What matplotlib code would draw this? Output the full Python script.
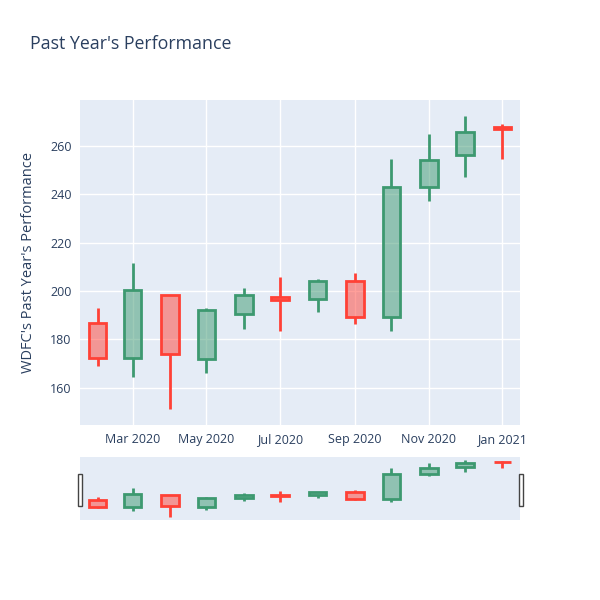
import numpy as np
import matplotlib; matplotlib.use('Agg')
import matplotlib.pyplot as plt
import matplotlib.dates as mdates
from matplotlib.patches import Rectangle

plt.rcParams.update({'font.family': ['Open Sans', 'DejaVu Sans']})

# monthly candles
months = ['2020-02-01', '2020-03-01', '2020-04-01', '2020-05-01', '2020-06-01', '2020-07-01',
          '2020-08-01', '2020-09-01', '2020-10-01', '2020-11-01', '2020-12-01', '2021-01-01']
opens = [186.6, 172.1, 198.1, 172.0, 190.3, 197.4, 196.7, 204.0, 189.0, 243.2, 256.3, 268.0]
highs = [193.1, 211.5, 198.1, 192.8, 201.4, 205.7, 205.0, 207.3, 254.7, 264.9, 272.5, 269.0]
lows = [169.1, 164.3, 151.0, 165.9, 184.3, 183.6, 191.4, 186.2, 183.4, 237.4, 247.3, 254.7]
closes = [172.1, 200.4, 173.9, 191.9, 198.1, 196.2, 204.3, 189.0, 243.2, 254.0, 265.6, 266.9]
tick_months = ['2020-03-01', '2020-05-01', '2020-07-01', '2020-09-01', '2020-11-01', '2021-01-01']
tick_labels = ['Mar 2020', 'May 2020', 'Jul 2020', 'Sep 2020', 'Nov 2020', 'Jan 2021']
yticks = [160, 180, 200, 220, 240, 260]

INC, DEC = '#3D9970', '#FF4136'
BG, TXT = '#e5ecf6', '#2a3f5f'

x = mdates.date2num(np.array(months, dtype='datetime64[D]'))
xt = mdates.date2num(np.array(tick_months, dtype='datetime64[D]'))
half = 14.5
xlim = (x[0] - half, x[-1] + half)
ylim = (144.5, 279.0)


def candles(ax):
    w = 2 * half * 0.5
    for xi, o, h, l, c in zip(x, opens, highs, lows, closes):
        col = INC if c >= o else DEC
        lo, hi = min(o, c), max(o, c)
        ax.add_patch(Rectangle((xi - w / 2, lo), w, hi - lo, facecolor=col, alpha=0.5,
                               edgecolor='none', zorder=3))
        ax.add_patch(Rectangle((xi - w / 2, lo), w, hi - lo, facecolor='none',
                               edgecolor=col, lw=2, zorder=4))
        ax.plot([xi, xi], [l, lo], color=col, lw=2, zorder=4, solid_capstyle='butt')
        ax.plot([xi, xi], [hi, h], color=col, lw=2, zorder=4, solid_capstyle='butt')
    ax.set_xlim(*xlim); ax.set_ylim(*ylim)
    ax.set_facecolor(BG)
    for s in ax.spines.values():
        s.set_visible(False)


fig = plt.figure(figsize=(6, 6), dpi=100)
ax = fig.add_axes([80 / 600, 1 - 425 / 600, 440 / 600, 325 / 600])
candles(ax)
ax.set_xticks(xt); ax.set_xticklabels(tick_labels)
ax.set_yticks(yticks)
ax.grid(True, color='white', lw=1, zorder=0)
ax.set_axisbelow(True)
ax.tick_params(length=0, labelsize=9, colors=TXT, pad=6)
ax.set_ylabel("WDFC's Past Year's Performance", fontsize=10.5, color=TXT, labelpad=10)

sl = fig.add_axes([80 / 600, 1 - 520 / 600, 440 / 600, 63.3 / 600])
candles(sl)
sl.set_xticks([]); sl.set_yticks([])

# range slider grab handles
for hx in (77.5, 518.5):
    fig.patches.append(Rectangle((hx / 600, 1 - 505.5 / 600), 4 / 600, 32 / 600,
                                 transform=fig.transFigure, facecolor='white',
                                 edgecolor='#444444', lw=1, zorder=5))

fig.text(30 / 600, 1 - 44 / 600, "Past Year's Performance", fontsize=12.75, color=TXT,
         ha='left', va='center')

fig.savefig('out.png', dpi=100)
